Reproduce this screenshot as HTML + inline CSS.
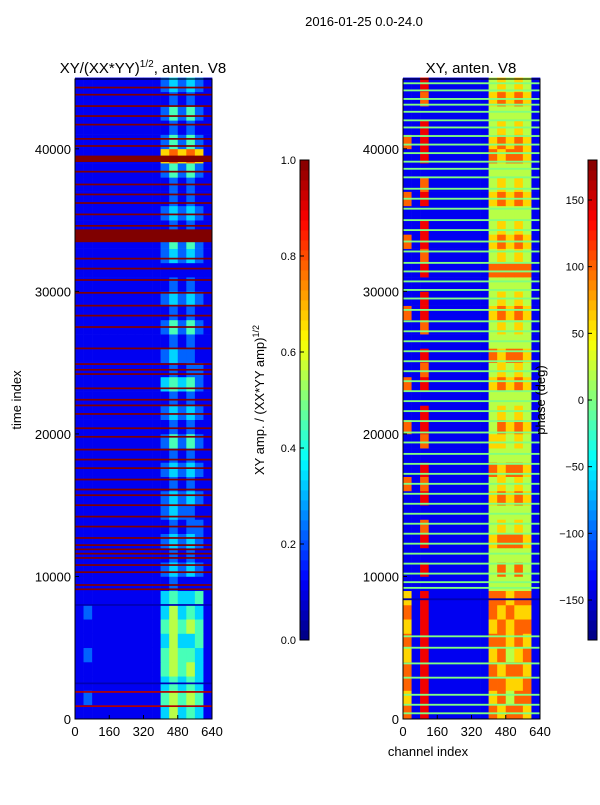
<!DOCTYPE html>
<html><head><meta charset="utf-8"><style>
body{margin:0;background:#fff;}
svg text{font-family:"Liberation Sans",sans-serif;fill:#000;}
</style></head><body>
<svg id="fig" width="600" height="800" viewBox="0 0 600 800" xmlns="http://www.w3.org/2000/svg">
<text x="364" y="26" font-size="13" text-anchor="middle">2016-01-25 0.0-24.0</text>
<g id="leftHeat"></g>
<g id="rightHeat"></g>
<g id="axes"></g>
<text x="21" y="400" font-size="13" text-anchor="middle" transform="rotate(-90 21 400)">time index</text>
<text x="428" y="756" font-size="13" text-anchor="middle">channel index</text>
<text x="264" y="400" font-size="13" text-anchor="middle" transform="rotate(-90 264 400)">XY amp. / (XX*YY amp)<tspan font-size="9" dy="-5">1/2</tspan></text>
<text x="545" y="400" font-size="13" text-anchor="middle" transform="rotate(-90 545 400)">phase (deg)</text>
</svg>
<script>
// ---- data ----
// per 1000-time-index band (row 0 = 0..1000), 16 channel bins of 40 channels; digit d => value d/9
const ampRows = [
"1111111111353431","1211111111454541","1111111111343431","1111111111454531","1211111111454431",
"1111111111353341","1111111111454541","1211111111353431","1111111111343341","1111111111121111",
"1111111111232321","1111111111121211","1111111111232321","1111111111121221","1111111111232211",
"1111111111232321","1111111111121211","1111111111232321","1111111111121211","1111111111242421",
"1111111111121211","1111111111232321","1111111111121211","1111111111343421","1111111111121221",
"1111111111232211","1111111111121211","1111111111242421","1111111111121211","1111111111232321",
"1111111111121211","1111111111111111","1111111111232321","1111111111242421","1111111111121211",
"1111111111232321","1111111111121211","1111111111121211","1111111111242421","1111111111676761",
"1111111111242421","1111111111121211","1111111111242421","1111111111121211","1111111111232321"
];
const phaseRows = [
"7181111111767761","6181111111675771","7181111111776671","7181111111767761","6181111111675671",
"7181111111776761","6181111111676771","7181111111767661","6181111111776771","1111111111555551",
"1181111111575751","1111111111555551","1181111111677761","1171111111565651","1111111111555551",
"1181111111676761","7171111111565651","1181111111767761","1111111111555551","1171111111665651",
"7181111111576761","1181111111565651","1111111111555551","7181111111676761","1171111111565651",
"1181111111767761","1111111111555551","1171111111565651","7181111111676761","1181111111565651",
"1111111111555551","1181111111777771","1171111111565651","7181111111676761","1181111111565651",
"1111111111555551","7181111111676761","1171111111565651","1111111111555551","1181111111767761",
"7181111111676761","1181111111565651","1111111111555551","1171111111676761","1181111111565651"
];
const ampLineT = [44300,43800,43000,42300,41700,40700,40200,39300,38400,37500,36800,36200,35400,34600,33900,32300,31600,30800,29900,29000,28300,27500,26000,24900,24500,24200,23200,22400,22000,21400,20400,19800,18900,18200,17600,16800,16100,15700,15000,14200,13500,12700,12200,11900,11600,11300,10800,10300,9400,9100,8000,2500,1900,900];
const ampLineW = [120,120,120,120,120,120,120,450,120,120,120,120,120,120,900,120,120,120,120,120,120,120,120,120,120,120,120,120,120,120,120,120,120,120,120,120,120,120,120,120,120,120,120,120,120,120,120,120,120,120,120,120,120,120];
const ampLineV = [1,1,1,1,1,1,1,1,1,1,1,1,1,1,1,1,1,1,1,1,1,1,1,1,1,1,1,1,1,1,1,1,1,1,1,1,1,1,1,1,1,1,1,1,1,1,1,1,1,1,0.05,0.05,0.95,0.95];
const phaseLineT = [44600,44100,43500,43100,42600,42000,41500,40900,40300,39700,39100,38600,38000,37200,36500,35800,35000,34300,33500,32800,32000,31400,30700,30100,29500,28700,27900,27200,26500,25800,25100,24400,23700,23000,22300,21600,20900,20100,19400,18600,17900,17200,16500,15800,15100,14400,13700,13000,12300,11600,10900,10200,9600,9200,8400,5800,5000,3900,2900,1700,1000,400];
const phaseLineV = [0.5,0.5,0.5,0.5,0.5,0.5,0.5,0.5,0.5,0.5,0.5,0.5,0.5,0.5,0.5,0.5,0.5,0.5,0.5,0.5,0.5,0.5,0.5,0.5,0.5,0.5,0.5,0.5,0.5,0.5,0.5,0.5,0.5,0.5,0.5,0.5,0.5,0.5,0.5,0.5,0.5,0.5,0.5,0.5,0.5,0.5,0.5,0.5,0.5,0.5,0.5,0.5,0.5,0.5,0.05,0.5,0.5,0.5,0.5,0.5,0.5,0.5];
const xTicks = [0,160,320,480,640];
const yTicks = [0,10000,20000,30000,40000];
const ampCbTicks = [0.0,0.2,0.4,0.6,0.8,1.0];
const phaseCbTicks = [-150,-100,-50,0,50,100,150];

// ---- helpers ----
function jet(v){v=Math.max(0,Math.min(1,v));
 const r=Math.max(0,Math.min(1,1.5-Math.abs(4*v-3))),g=Math.max(0,Math.min(1,1.5-Math.abs(4*v-2))),b=Math.max(0,Math.min(1,1.5-Math.abs(4*v-1)));
 return `rgb(${Math.round(r*255)},${Math.round(g*255)},${Math.round(b*255)})`;}
const NS="http://www.w3.org/2000/svg";
function mk(tag,attrs,parent){const e=document.createElementNS(NS,tag);for(const k in attrs)e.setAttribute(k,attrs[k]);parent.appendChild(e);return e;}
const TMAX=44900, Y0=719, Y1=79;
const yS=t=>Y0-(t/TMAX)*(Y0-Y1);
function xS(x0){return c=>x0+c/640*137;}
const axes=document.getElementById('axes');

function drawHeat(g,rows,x0,lineT,lineW,lineV){
 const xs=xS(x0);
 rows.forEach((row,ri)=>{
  for(let ci=0;ci<row.length;ci++){
   const v=parseInt(row[ci])/9;
   const r=mk('rect',{x:xs(ci*40),y:yS((ri+1)*1000),width:xs((ci+1)*40)-xs(ci*40)+0.3,height:yS(ri*1000)-yS((ri+1)*1000)+0.3,fill:jet(v)},g);
   
   
  }
 });
 lineT.forEach((t,i)=>{
  const w=lineW?lineW[i]:130;
  const r=mk('rect',{x:xs(0),y:yS(t+w/2),width:137,height:Math.max(1.5,yS(t-w/2)-yS(t+w/2)),fill:jet(lineV[i])},g);
  
  
 });
}
drawHeat(document.getElementById('leftHeat'),ampRows,75,ampLineT,ampLineW,ampLineV);
drawHeat(document.getElementById('rightHeat'),phaseRows,403,phaseLineT,null,phaseLineV);

function drawAxes(x0,title){
 const xs=xS(x0);
 const f=mk('rect',{x:x0,y:Y1,width:137,height:Y0-Y1,fill:'none',stroke:'#000','stroke-width':1},axes);
 
 
 xTicks.forEach(v=>{
  mk('line',{x1:xs(v),x2:xs(v),y1:Y0,y2:Y0-4,stroke:'#000'},axes);
  const t=mk('text',{x:xs(v),y:Y0+17,'font-size':13,'text-anchor':'middle'},axes);t.textContent=v;
  
  
 });
 yTicks.forEach(v=>{
  mk('line',{x1:x0,x2:x0+4,y1:yS(v),y2:yS(v),stroke:'#000'},axes);
  const t=mk('text',{x:x0-4,y:yS(v)+5,'font-size':13,'text-anchor':'end'},axes);t.textContent=v;
  
  
 });
 const tt=mk('text',{x:x0+68,y:73,'font-size':15,'text-anchor':'middle'},axes);tt.innerHTML=title;
 
 
}
drawAxes(75,'XY/(XX*YY)<tspan font-size="10" dy="-6">1/2</tspan><tspan dy="6">, anten. V8</tspan>');
drawAxes(403,'XY, anten. V8');

function drawCb(x0,vmin,vmax,ticks,fmt){
 const top=160,bot=640,n=48;
 for(let i=0;i<n;i++){
  const r=mk('rect',{x:x0,y:bot-(i+1)*(bot-top)/n,width:9,height:(bot-top)/n+0.4,fill:jet((i+0.5)/n)},axes);
  
  
 }
 const f=mk('rect',{x:x0,y:top,width:9,height:bot-top,fill:'none',stroke:'#000'},axes);
 
 
 ticks.forEach(v=>{
  const y=bot-(v-vmin)/(vmax-vmin)*(bot-top);
  mk('line',{x1:x0,x2:x0+4,y1:y,y2:y,stroke:'#000'},axes);
  const t=mk('text',{x:x0-4,y:y+4,'font-size':11,'text-anchor':'end'},axes);t.textContent=fmt(v);
  
  
 });
}
drawCb(300,0,1,ampCbTicks,v=>v.toFixed(1));
drawCb(588,-180,180,phaseCbTicks,v=>v<0?'\u2212'+(-v):String(v));
</script>
</body></html>
